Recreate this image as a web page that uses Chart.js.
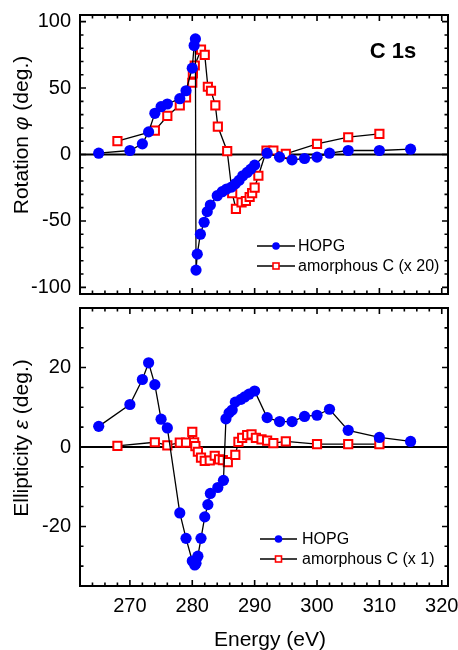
<!DOCTYPE html>
<html>
<head>
<meta charset="utf-8">
<script src="https://cdn.jsdelivr.net/npm/chart.js@4.4.0/dist/chart.umd.min.js"></script>
<style>
  html, body { margin: 0; padding: 0; background: #fff; }
  #wrap { position: relative; width: 458px; height: 650px; }
  canvas { position: absolute; left: 0; }
  #rotChart { top: 0; }
  #ellChart { top: 300px; }
</style>
</head>
<body>
<div id="wrap">
  <canvas id="rotChart" width="458" height="300"></canvas>
  <canvas id="ellChart" width="458" height="350"></canvas>
</div>
<script>
// Rotation, C 1s edge
const hopgRotE = [265, 270, 272, 273, 274, 275, 276, 278, 279, 280,
    280.3, 280.5, 280.6, 280.8, 281.3, 281.9, 282.4, 282.9, 284, 284.8,
    285.5, 286.3, 286.9, 287.5, 288.1, 288.8, 289.4, 290, 292, 294,
    296, 298, 300, 302, 305, 310, 315];
const hopgRotVal = [1, 3, 8, 17, 31, 36, 38, 42, 48, 65,
    82, 87, -87, -75, -60, -51, -43, -38, -31, -28,
    -26, -24.5, -22, -19.5, -16, -13.5, -11, -8, 1, -2,
    -4, -3, -2, 1, 3, 3, 4];
const amorRotE = [268, 274, 276, 278, 279, 280, 280.1, 280.4, 281.4, 282,
    282.5, 283, 283.7, 284.1, 285.6, 286.4, 287, 287.9, 288.6, 289.2,
    289.6, 290, 290.6, 291.9, 293, 295, 300, 305, 310];
const amorRotVal = [10, 18, 29, 37, 43, 54, 61, 67, 79, 75,
    51, 48, 37, 21, 2.5, -29, -41, -36, -35, -32,
    -29, -25, -16, 3, 3, 0.5, 8, 13, 15.5];

// Ellipticity
const hopgEllE = [265, 270, 272, 273, 274, 275, 276, 278, 279, 280,
    280.4, 280.6, 280.9, 281.4, 282, 282.5, 282.9, 284.1, 285, 285.4,
    285.9, 286.4, 286.9, 287.8, 288.4, 289.1, 290, 292, 294, 296,
    298, 300, 302, 305, 310, 315];
const hopgEllVal = [5.2, 10.7, 17, 21.2, 15.7, 7, 4.8, -16.6, -23, -28.7,
    -29.7, -29.3, -27.5, -23, -17.6, -14.5, -11.7, -10.2, -8.4, 7.1,
    8.6, 9.3, 11.3, 12, 12.6, 13.3, 14.1, 7.4, 6.4, 6.4,
    7.7, 8, 9.5, 4.2, 2.4, 1.4];
const amorEllE = [268, 274, 276, 278, 279, 280, 280.3, 280.5, 280.9, 281.4,
    282, 282.8, 283.6, 284.3, 284.9, 285.7, 286.9, 287.4, 288, 288.8,
    289.5, 290.2, 291.1, 292, 293, 295, 300, 305, 310];
const amorEllVal = [0.3, 1.2, 0.4, 1.1, 1.1, 3.8, 1.2, 0.2, -1.2, -2.7,
    -3.5, -3.4, -2.2, -3.1, -3.3, -3.8, -2, 1.3, 2.3, 3,
    3.2, 2.3, 1.9, 1.6, 1, 1.4, 0.7, 0.7, 0.7];

const energyTicks = [270, 280, 290, 300, 310, 320];
const rotTicks = [-100, -50, 0, 50, 100];
const ellTicks = [-20, 0, 20];

const FONT = "'Liberation Sans', Arial, sans-serif";
const BLUE = '#0000ff';
const RED = '#ff0000';

const pts = (xs, ys) => xs.map((e, i) => ({ x: e, y: ys[i] }));

function hopgSet(label, data) {
    return {
        label: label,
        data: data,
        showLine: true,
        borderColor: '#000',
        borderWidth: 1.3,
        pointStyle: 'circle',
        pointRadius: 5.6,
        pointBackgroundColor: BLUE,
        pointBorderColor: BLUE,
        pointBorderWidth: 0
    };
}

function amorSet(label, data) {
    return {
        label: label,
        data: data,
        showLine: true,
        borderColor: '#000',
        borderWidth: 1.3,
        pointStyle: 'rect',
        pointRadius: 5.8,
        pointBackgroundColor: '#fff',
        pointBorderColor: RED,
        pointBorderWidth: 2
    };
}

function drawRotatedTitle(ctx, parts, baseX, centerY) {
    ctx.save();
    ctx.translate(baseX, centerY);
    ctx.rotate(-Math.PI / 2);
    let total = 0;
    parts.forEach(p => { ctx.font = p.font; total += ctx.measureText(p.text).width; });
    let xx = -total / 2;
    ctx.fillStyle = '#000';
    ctx.textAlign = 'left';
    ctx.textBaseline = 'alphabetic';
    parts.forEach(p => {
        ctx.font = p.font;
        ctx.fillText(p.text, xx, 0);
        xx += ctx.measureText(p.text).width;
    });
    ctx.restore();
}

function drawLegend(ctx, lg) {
    ctx.save();
    ctx.font = '16px ' + FONT;
    ctx.textBaseline = 'middle';
    ctx.textAlign = 'left';
    lg.rows.forEach((row, i) => {
        const y = lg.y[i];
        ctx.strokeStyle = '#000';
        ctx.lineWidth = 1.3;
        ctx.beginPath();
        ctx.moveTo(lg.x0, y);
        ctx.lineTo(lg.x1, y);
        ctx.stroke();
        const mx = (lg.x0 + lg.x1) / 2;
        if (row.kind === 'circle') {
            ctx.fillStyle = BLUE;
            ctx.beginPath();
            ctx.arc(mx, y, 3.8, 0, Math.PI * 2);
            ctx.fill();
        } else {
            ctx.fillStyle = '#fff';
            ctx.strokeStyle = RED;
            ctx.lineWidth = 1.6;
            ctx.fillRect(mx - 3, y - 3, 6, 6);
            ctx.strokeRect(mx - 3, y - 3, 6, 6);
        }
        ctx.fillStyle = '#000';
        ctx.fillText(row.text, lg.tx, y + 1);
    });
    ctx.restore();
}

// frame, inward ticks on all four sides, zero line, titles and legend
function panelDecor(cfg) {
    return {
        id: 'panelDecor',
        beforeDatasetsDraw(chart) {
            const { ctx, chartArea: a, scales: { y } } = chart;
            const y0 = y.getPixelForValue(0);
            ctx.save();
            ctx.strokeStyle = '#000';
            ctx.lineWidth = 2;
            ctx.beginPath();
            ctx.moveTo(a.left, y0);
            ctx.lineTo(a.right, y0);
            ctx.stroke();
            ctx.restore();
        },
        afterDraw(chart) {
            const { ctx, chartArea: a, scales: { x, y } } = chart;
            ctx.save();
            ctx.strokeStyle = '#000';
            ctx.lineWidth = 1.6;
            ctx.beginPath();
            for (let e = 262; e <= 320; e += 2) {
                const px = x.getPixelForValue(e);
                const len = e % 10 === 0 ? 6 : 3.5;
                ctx.moveTo(px, a.bottom);
                ctx.lineTo(px, a.bottom - len);
                ctx.moveTo(px, a.top);
                ctx.lineTo(px, a.top + len);
            }
            for (let v = cfg.yFrom; v <= cfg.yTo; v += cfg.yMinor) {
                const py = y.getPixelForValue(v);
                const len = v % cfg.yMajor === 0 ? 6 : 3.5;
                ctx.moveTo(a.left, py);
                ctx.lineTo(a.left + len, py);
                ctx.moveTo(a.right, py);
                ctx.lineTo(a.right - len, py);
            }
            ctx.stroke();
            ctx.lineWidth = 2;
            ctx.strokeRect(a.left, a.top, a.right - a.left, a.bottom - a.top);
            ctx.restore();

            drawRotatedTitle(ctx, cfg.yTitle, 28, cfg.yTitleY);
            drawLegend(ctx, cfg.legend);
            if (cfg.extra) cfg.extra(ctx);
        }
    };
}

function energyAxis(showLabels, height) {
    return {
        type: 'linear',
        min: 262,
        max: 321,
        afterBuildTicks: s => { s.ticks = energyTicks.map(v => ({ value: v })); },
        afterFit: s => {
            s.height = height;
            s.paddingLeft = 0;
            s.paddingRight = 0;
        },
        grid: { display: false, drawTicks: false },
        border: { display: false },
        ticks: {
            display: showLabels,
            autoSkip: false,
            maxRotation: 0,
            color: '#000',
            padding: 8,
            font: { family: FONT, size: 20 }
        }
    };
}

function valueAxis(min, max, ticks) {
    return {
        type: 'linear',
        min: min,
        max: max,
        afterBuildTicks: s => { s.ticks = ticks.map(v => ({ value: v })); },
        afterFit: s => {
            s.width = 80;
            s.paddingTop = 0;
            s.paddingBottom = 0;
        },
        grid: { display: false, drawTicks: false },
        border: { display: false },
        ticks: {
            color: '#000',
            padding: 9,
            font: { family: FONT, size: 20 }
        }
    };
}

function baseOptions(padTop, xAxis, yAxis) {
    return {
        responsive: false,
        animation: false,
        devicePixelRatio: 1,
        events: [],
        layout: { autoPadding: false, padding: { top: padTop, right: 10, bottom: 0, left: 0 } },
        plugins: { legend: { display: false }, tooltip: { enabled: false } },
        scales: { x: xAxis, y: yAxis }
    };
}

new Chart(document.getElementById('rotChart'), {
    type: 'scatter',
    data: {
        datasets: [
            hopgSet('HOPG', pts(hopgRotE, hopgRotVal)),
            amorSet('amorphous C (x 20)', pts(amorRotE, amorRotVal))
        ]
    },
    options: baseOptions(15, energyAxis(false, 6), valueAxis(-105, 105, rotTicks)),
    plugins: [panelDecor({
        yFrom: -100, yTo: 100, yMinor: 10, yMajor: 50,
        yTitleY: 135,
        yTitle: [
            { text: 'Rotation ', font: '21px ' + FONT },
            { text: 'φ', font: 'italic 21px ' + FONT },
            { text: ' (deg.)', font: '21px ' + FONT }
        ],
        legend: {
            x0: 257, x1: 295, tx: 298, y: [246, 266],
            rows: [
                { kind: 'circle', text: 'HOPG' },
                { kind: 'rect', text: 'amorphous C (x 20)' }
            ]
        },
        extra: ctx => {
            ctx.save();
            ctx.font = 'bold 22px ' + FONT;
            ctx.fillStyle = '#000';
            ctx.textAlign = 'center';
            ctx.textBaseline = 'alphabetic';
            ctx.fillText('C 1s', 393, 58);
            ctx.restore();
        }
    })]
});

new Chart(document.getElementById('ellChart'), {
    type: 'scatter',
    data: {
        datasets: [
            hopgSet('HOPG', pts(hopgEllE, hopgEllVal)),
            amorSet('amorphous C (x 1)', pts(amorEllE, amorEllVal))
        ]
    },
    options: baseOptions(8, energyAxis(true, 64), valueAxis(-35, 35, ellTicks)),
    plugins: [panelDecor({
        yFrom: -30, yTo: 30, yMinor: 5, yMajor: 20,
        yTitleY: 138,
        yTitle: [
            { text: 'Ellipticity ', font: '21px ' + FONT },
            { text: 'ε', font: 'italic 21px ' + FONT },
            { text: ' (deg.)', font: '21px ' + FONT }
        ],
        legend: {
            x0: 260, x1: 297, tx: 302, y: [239, 259],
            rows: [
                { kind: 'circle', text: 'HOPG' },
                { kind: 'rect', text: 'amorphous C (x 1)' }
            ]
        },
        extra: ctx => {
            ctx.save();
            ctx.font = '21px ' + FONT;
            ctx.fillStyle = '#000';
            ctx.textAlign = 'center';
            ctx.textBaseline = 'alphabetic';
            ctx.fillText('Energy (eV)', 270, 346);
            ctx.restore();
        }
    })]
});
</script>
</body>
</html>
